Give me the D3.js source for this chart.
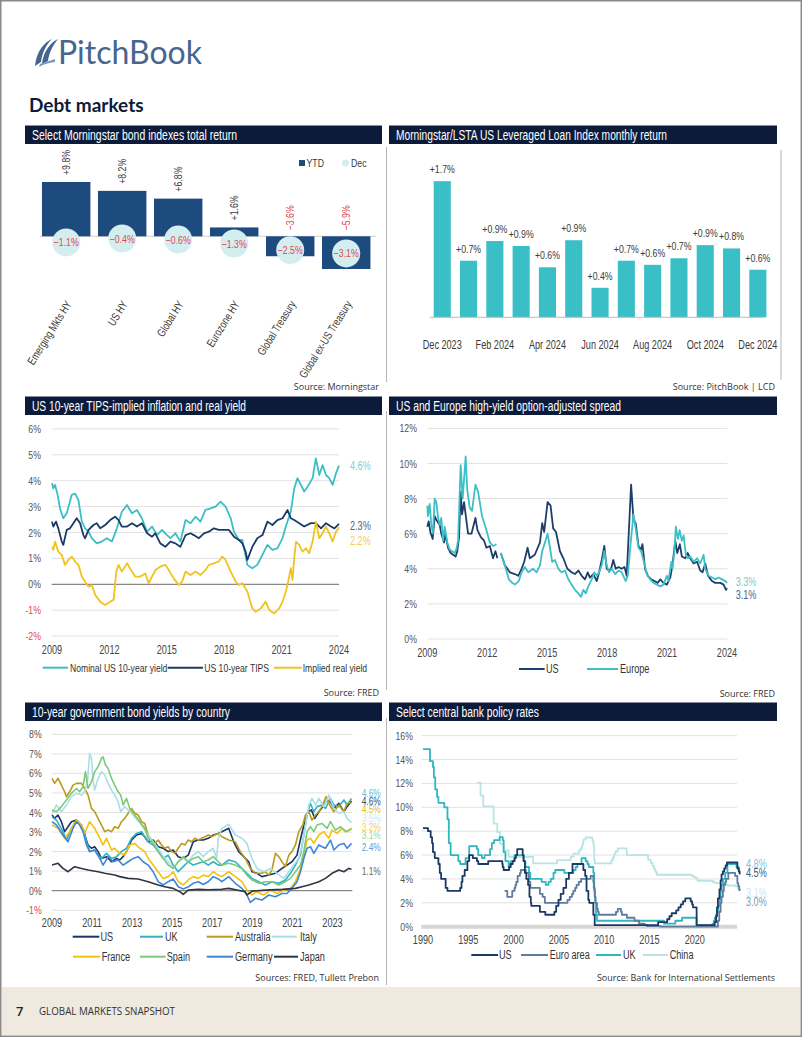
<!DOCTYPE html>
<html><head><meta charset="utf-8">
<script src="https://cdn.jsdelivr.net/npm/d3@7"></script>
<style>body{margin:0;background:#fff}svg{display:block}</style>
</head><body>
<svg id="c" width="802" height="1037"></svg>
<script>
// ---------------- DATA ----------------
const bondCategories = ["Emerging Mkts HY","US HY","Global HY","Eurozone HY","Global Treasury","Global ex-US Treasury"];
const bondYTD = [9.8, 8.2, 6.8, 1.6, -3.6, -5.9];
const bondDec = [-1.1, -0.4, -0.6, -1.3, -2.5, -3.1];

const loanMonths = ["Dec 2023","Jan 2024","Feb 2024","Mar 2024","Apr 2024","May 2024","Jun 2024","Jul 2024","Aug 2024","Sep 2024","Oct 2024","Nov 2024","Dec 2024"];
const loanReturns = [1.66, 0.69, 0.93, 0.87, 0.61, 0.94, 0.36, 0.69, 0.64, 0.72, 0.88, 0.84, 0.58];
const loanTickLabels = ["Dec 2023","Feb 2024","Apr 2024","Jun 2024","Aug 2024","Oct 2024","Dec 2024"];

const tipsYTicks = [-2,-1,0,1,2,3,4,5,6];
const tipsXTicks = [2009,2012,2015,2018,2021,2024];
const tipsNominal = [[2009.0,3.9],[2009.07,3.7],[2009.16,3.84],[2009.28,3.5],[2009.42,2.93],[2009.59,2.55],[2009.77,2.74],[2010.03,3.45],[2010.21,3.5],[2010.38,3.25],[2010.56,2.42],[2010.73,2.16],[2010.91,2.03],[2011.08,1.78],[2011.34,1.58],[2011.6,1.65],[2011.87,1.78],[2012.13,1.65],[2012.39,2.16],[2012.65,2.8],[2012.92,3.06],[2013.18,2.74],[2013.44,2.87],[2013.7,2.55],[2013.97,2.03],[2014.23,2.23],[2014.49,1.9],[2014.75,2.1],[2015.01,1.9],[2015.19,1.78],[2015.45,1.97],[2015.71,1.65],[2015.98,2.48],[2016.24,2.36],[2016.5,2.61],[2016.76,2.42],[2017.02,2.87],[2017.29,2.93],[2017.55,3.0],[2017.81,3.19],[2018.07,3.0],[2018.34,2.55],[2018.51,2.03],[2018.77,1.71],[2018.95,1.71],[2019.21,0.75],[2019.47,0.62],[2019.73,0.75],[2019.99,1.13],[2020.26,1.52],[2020.52,1.33],[2020.78,1.39],[2021.05,1.78],[2021.22,2.23],[2021.48,2.8],[2021.66,3.7],[2021.83,4.1],[2022.01,3.84],[2022.18,3.58],[2022.36,3.77],[2022.62,4.1],[2022.79,4.86],[2022.97,4.22],[2023.14,4.6],[2023.32,4.22],[2023.49,4.1],[2023.67,3.84],[2023.84,4.28],[2024.0,4.58]];
const tipsBreakeven = [[2009.0,2.42],[2009.07,2.23],[2009.21,2.42],[2009.33,2.16],[2009.51,1.65],[2009.59,1.52],[2009.77,2.1],[2009.94,2.16],[2010.12,2.36],[2010.29,2.55],[2010.47,2.36],[2010.64,1.9],[2010.73,1.78],[2010.91,2.1],[2011.17,2.29],[2011.34,2.36],[2011.52,2.16],[2011.78,2.29],[2012.04,2.48],[2012.3,2.61],[2012.48,2.48],[2012.65,2.23],[2012.92,2.23],[2013.18,2.36],[2013.44,2.23],[2013.7,2.36],[2013.97,1.97],[2014.23,1.84],[2014.4,1.97],[2014.66,1.58],[2014.93,1.45],[2015.19,1.65],[2015.45,1.58],[2015.71,1.45],[2015.98,1.9],[2016.24,1.97],[2016.41,1.9],[2016.68,1.78],[2016.94,1.97],[2017.2,2.03],[2017.46,2.16],[2017.72,2.1],[2017.99,2.1],[2018.25,2.1],[2018.51,1.84],[2018.77,1.71],[2018.95,1.58],[2019.12,1.26],[2019.21,0.94],[2019.47,1.45],[2019.73,1.78],[2020.0,1.9],[2020.26,2.42],[2020.52,2.29],[2020.78,2.48],[2021.05,2.55],[2021.31,2.87],[2021.48,2.55],[2021.66,2.48],[2021.92,2.36],[2022.18,2.23],[2022.53,2.36],[2022.79,2.36],[2023.06,2.16],[2023.32,2.36],[2023.58,2.23],[2023.76,2.16],[2024.0,2.33]];
const tipsReal = [[2009.0,1.45],[2009.07,1.33],[2009.16,1.65],[2009.33,1.26],[2009.51,1.13],[2009.68,0.75],[2009.86,0.94],[2010.03,1.07],[2010.21,0.88],[2010.38,0.75],[2010.56,0.3],[2010.73,0.1],[2010.91,-0.09],[2011.08,-0.03],[2011.26,-0.41],[2011.52,-0.67],[2011.78,-0.8],[2012.04,-0.67],[2012.22,-0.6],[2012.36,0.49],[2012.48,0.75],[2012.65,0.49],[2012.92,0.81],[2013.18,0.49],[2013.35,0.3],[2013.62,0.3],[2013.88,0.42],[2014.05,0.04],[2014.23,0.3],[2014.4,0.55],[2014.66,0.68],[2014.93,0.75],[2015.1,0.55],[2015.36,0.23],[2015.63,-0.03],[2015.8,0.1],[2015.98,0.49],[2016.24,0.36],[2016.5,0.49],[2016.76,0.36],[2017.02,0.55],[2017.2,0.75],[2017.46,0.81],[2017.72,0.88],[2017.9,1.07],[2018.07,0.94],[2018.34,0.49],[2018.6,0.1],[2018.77,-0.03],[2018.95,0.04],[2019.21,-0.28],[2019.47,-0.93],[2019.65,-1.06],[2019.91,-0.93],[2020.17,-0.67],[2020.35,-0.99],[2020.61,-1.12],[2020.87,-0.93],[2021.05,-0.67],[2021.22,-0.28],[2021.34,0.1],[2021.48,0.62],[2021.57,0.17],[2021.66,1.0],[2021.75,1.65],[2021.92,1.52],[2022.09,1.26],[2022.27,1.39],[2022.44,1.2],[2022.62,1.65],[2022.79,2.42],[2022.97,1.78],[2023.14,1.97],[2023.32,2.23],[2023.49,1.97],[2023.67,1.65],[2023.84,2.03],[2024.0,2.2]];
const tipsEndLabels = ["4.6%","2.3%","2.2%"];

const hyYTicks = [0,2,4,6,8,10,12];
const hyXTicks = [2009,2012,2015,2018,2021,2024];
const hyUS = [[2009.0,6.4],[2009.07,6.7],[2009.15,6.1],[2009.27,5.7],[2009.37,7.0],[2009.45,6.8],[2009.62,6.5],[2009.7,6.0],[2009.84,5.5],[2009.9,6.0],[2010.04,5.2],[2010.17,4.9],[2010.29,4.8],[2010.42,4.7],[2010.5,5.0],[2010.59,5.8],[2010.67,8.4],[2010.74,7.1],[2010.84,7.8],[2011.04,6.0],[2011.21,6.0],[2011.41,6.9],[2011.51,6.2],[2011.68,5.8],[2011.84,5.6],[2011.96,5.2],[2012.13,5.3],[2012.29,4.6],[2012.41,5.0],[2012.51,4.6],[2012.6,null],[2012.68,4.9],[2012.88,4.2],[2013.01,4.0],[2013.13,3.8],[2013.38,3.7],[2013.55,3.6],[2013.72,4.0],[2013.85,4.4],[2014.02,5.2],[2014.13,4.6],[2014.38,4.8],[2014.64,5.5],[2014.75,6.6],[2014.85,6.1],[2015.02,7.8],[2015.17,7.6],[2015.3,6.3],[2015.44,6.1],[2015.64,5.0],[2015.81,4.6],[2016.01,4.0],[2016.22,3.8],[2016.39,3.7],[2016.56,3.9],[2016.73,3.6],[2016.89,3.4],[2017.03,3.8],[2017.14,3.5],[2017.31,3.7],[2017.48,3.3],[2017.6,3.8],[2017.73,4.5],[2017.86,5.3],[2017.98,4.0],[2018.1,3.9],[2018.2,4.0],[2018.31,4.5],[2018.43,4.0],[2018.57,4.1],[2018.73,4.0],[2018.87,4.1],[2018.98,3.6],[2019.2,8.8],[2019.32,6.8],[2019.43,6.6],[2019.57,5.3],[2019.7,5.1],[2019.77,5.4],[2019.9,4.0],[2020.04,3.6],[2020.2,3.4],[2020.37,3.3],[2020.54,3.2],[2020.66,3.4],[2020.82,3.2],[2020.99,3.1],[2021.16,3.5],[2021.27,4.2],[2021.41,5.6],[2021.51,4.9],[2021.64,5.4],[2021.74,4.7],[2021.91,4.6],[2022.03,4.9],[2022.16,4.6],[2022.33,4.3],[2022.5,4.4],[2022.66,3.9],[2022.78,3.8],[2022.91,4.3],[2023.05,3.6],[2023.25,3.3],[2023.41,3.2],[2023.67,3.2],[2023.83,3.1],[2023.95,2.8],[2024.0,2.9]];
const hyEurope = [[2009.0,7.6],[2009.03,7.0],[2009.12,7.7],[2009.2,6.5],[2009.28,6.0],[2009.37,8.0],[2009.45,7.8],[2009.54,6.9],[2009.62,6.5],[2009.7,6.9],[2009.79,5.6],[2009.87,6.4],[2010.0,5.5],[2010.12,5.1],[2010.24,5.0],[2010.37,4.9],[2010.45,5.1],[2010.54,5.6],[2010.67,9.9],[2010.77,8.0],[2010.92,10.4],[2011.0,8.5],[2011.12,7.5],[2011.24,7.3],[2011.41,8.8],[2011.54,8.4],[2011.74,7.0],[2011.96,6.2],[2012.13,5.5],[2012.29,5.3],[2012.46,5.4],[2012.6,null],[2012.68,4.9],[2012.88,4.2],[2013.08,3.4],[2013.25,3.2],[2013.38,3.1],[2013.58,3.3],[2013.72,3.8],[2013.88,4.1],[2014.05,3.8],[2014.3,4.0],[2014.47,3.8],[2014.64,4.2],[2014.75,5.0],[2014.89,5.5],[2015.02,6.0],[2015.14,5.2],[2015.25,4.4],[2015.39,4.5],[2015.56,4.0],[2015.72,3.8],[2015.89,3.9],[2016.06,3.4],[2016.22,3.1],[2016.39,2.8],[2016.56,2.6],[2016.69,2.4],[2016.81,2.8],[2016.93,2.6],[2017.06,3.0],[2017.23,3.4],[2017.36,3.8],[2017.48,3.6],[2017.6,3.8],[2017.73,4.2],[2017.86,5.0],[2017.98,4.2],[2018.1,3.8],[2018.23,4.0],[2018.4,3.7],[2018.57,3.9],[2018.73,3.8],[2018.93,3.3],[2019.03,3.6],[2019.18,5.5],[2019.32,7.1],[2019.43,6.3],[2019.57,5.2],[2019.7,5.0],[2019.82,4.5],[2019.99,3.7],[2020.15,3.4],[2020.32,3.2],[2020.49,3.1],[2020.66,3.0],[2020.82,3.1],[2020.99,3.6],[2021.07,3.3],[2021.21,4.4],[2021.27,4.0],[2021.37,5.0],[2021.44,6.4],[2021.54,5.7],[2021.63,6.2],[2021.74,5.6],[2021.83,5.9],[2021.94,4.8],[2022.04,4.6],[2022.16,4.7],[2022.33,4.4],[2022.5,4.6],[2022.66,4.3],[2022.83,4.8],[2022.91,4.0],[2023.08,3.6],[2023.25,3.5],[2023.41,3.4],[2023.58,3.5],[2023.75,3.4],[2023.92,3.3],[2024.0,3.2]];
const hyEndLabels = ["3.3%","3.1%"];

const govYTicks = [-1,0,1,2,3,4,5,6,7,8];
const govXTicks = [2009,2011,2013,2015,2017,2019,2021,2023];
const govUS = [[2009.0,3.87],[2009.13,3.7],[2009.3,3.87],[2009.47,3.53],[2009.63,3.02],[2009.8,3.27],[2009.97,3.53],[2010.22,3.61],[2010.47,3.36],[2010.63,2.85],[2010.8,2.34],[2010.97,2.17],[2011.13,2.25],[2011.3,2.0],[2011.47,1.65],[2011.72,1.74],[2011.97,1.48],[2012.22,1.65],[2012.38,1.57],[2012.55,1.74],[2012.72,2.0],[2012.97,2.59],[2013.22,2.85],[2013.47,2.93],[2013.63,2.76],[2013.8,2.5],[2014.05,2.59],[2014.3,2.25],[2014.55,2.17],[2014.8,2.0],[2015.05,2.08],[2015.3,1.74],[2015.55,1.65],[2015.8,1.82],[2016.05,2.5],[2016.3,2.59],[2016.55,2.59],[2016.8,2.68],[2017.05,2.85],[2017.3,2.93],[2017.48,3.02],[2017.82,3.19],[2018.07,2.5],[2018.32,2.0],[2018.57,1.74],[2018.82,1.48],[2018.98,0.97],[2019.23,0.89],[2019.48,0.72],[2019.82,0.8],[2020.15,0.89],[2020.48,1.14],[2020.73,1.31],[2020.98,1.48],[2021.23,1.82],[2021.45,2.85],[2021.62,3.53],[2021.78,4.04],[2021.95,4.13],[2022.12,3.7],[2022.32,4.04],[2022.52,4.3],[2022.73,4.64],[2022.9,4.55],[2023.07,4.21],[2023.32,4.47],[2023.57,4.04],[2023.73,4.3],[2023.95,4.59]];
const govUK = [[2009.0,3.78],[2009.22,3.61],[2009.55,3.02],[2009.72,2.59],[2009.97,3.19],[2010.22,3.61],[2010.38,3.44],[2010.63,3.02],[2010.72,2.5],[2010.88,2.0],[2011.13,2.08],[2011.3,1.82],[2011.47,1.65],[2011.72,1.91],[2011.97,1.65],[2012.22,1.74],[2012.47,2.0],[2012.72,2.17],[2012.97,2.68],[2013.22,2.93],[2013.47,3.02],[2013.63,2.76],[2013.8,2.5],[2014.05,2.34],[2014.3,2.0],[2014.55,1.65],[2014.8,1.82],[2015.05,1.31],[2015.3,0.97],[2015.55,1.23],[2015.8,1.48],[2016.05,1.31],[2016.3,1.4],[2016.55,1.48],[2016.8,1.31],[2017.05,1.48],[2017.3,1.31],[2017.48,1.31],[2017.82,1.57],[2018.15,1.48],[2018.48,1.14],[2018.73,0.89],[2018.98,0.63],[2019.32,0.46],[2019.65,0.29],[2019.98,0.46],[2020.32,0.38],[2020.65,0.55],[2020.9,0.89],[2021.15,1.31],[2021.4,1.82],[2021.57,2.85],[2021.73,3.87],[2021.9,4.47],[2022.07,4.04],[2022.23,4.3],[2022.48,4.38],[2022.65,4.21],[2022.9,4.72],[2023.07,4.38],[2023.32,4.3],[2023.57,4.64],[2023.73,4.38],[2023.95,4.72]];
const govAustralia = [[2009.0,5.75],[2009.13,5.49],[2009.3,5.75],[2009.47,5.4],[2009.63,5.06],[2009.72,4.81],[2009.88,5.06],[2010.05,5.4],[2010.22,5.49],[2010.47,5.49],[2010.63,5.23],[2010.8,4.89],[2010.97,4.21],[2011.13,4.04],[2011.3,3.7],[2011.47,3.36],[2011.63,3.02],[2011.8,3.1],[2011.97,3.02],[2012.13,3.27],[2012.3,3.19],[2012.47,3.53],[2012.63,3.7],[2012.8,3.96],[2012.97,4.21],[2013.13,3.96],[2013.3,3.87],[2013.47,3.53],[2013.63,3.44],[2013.8,2.85],[2013.97,2.59],[2014.13,2.42],[2014.3,2.59],[2014.47,2.34],[2014.63,2.17],[2014.8,2.25],[2014.97,2.0],[2015.13,1.91],[2015.3,2.17],[2015.47,2.42],[2015.63,2.34],[2015.8,2.59],[2015.97,2.5],[2016.13,2.68],[2016.3,2.59],[2016.47,2.68],[2016.63,2.76],[2016.8,2.85],[2016.97,2.76],[2017.13,2.85],[2017.3,2.93],[2017.48,2.76],[2017.82,2.59],[2018.15,2.5],[2018.4,2.0],[2018.65,1.65],[2018.9,1.14],[2019.15,0.89],[2019.48,0.89],[2019.65,0.97],[2019.82,0.8],[2019.98,1.06],[2020.15,1.91],[2020.32,1.74],[2020.48,1.48],[2020.65,1.23],[2020.82,1.82],[2020.98,2.0],[2021.15,2.34],[2021.32,3.02],[2021.52,3.36],[2021.65,3.87],[2021.82,4.04],[2021.98,3.61],[2022.15,3.87],[2022.32,4.04],[2022.48,4.3],[2022.68,4.81],[2022.9,4.3],[2023.07,4.04],[2023.32,4.38],[2023.57,4.04],[2023.73,4.47],[2023.95,4.5]];
const govItaly = [[2009.0,3.96],[2009.22,4.38],[2009.47,4.04],[2009.72,4.38],[2009.97,4.81],[2010.22,4.98],[2010.47,4.89],[2010.63,5.06],[2010.77,5.58],[2010.88,7.02],[2010.97,6.77],[2011.05,5.66],[2011.13,5.15],[2011.3,5.75],[2011.47,6.09],[2011.63,5.92],[2011.8,5.49],[2011.97,5.15],[2012.13,4.89],[2012.3,4.55],[2012.43,4.04],[2012.63,4.3],[2012.97,3.96],[2013.47,3.36],[2013.8,2.85],[2014.05,2.5],[2014.3,2.17],[2014.55,1.74],[2014.8,1.48],[2015.05,1.14],[2015.3,1.48],[2015.55,1.65],[2015.8,1.48],[2016.05,1.82],[2016.3,2.0],[2016.55,1.74],[2016.8,2.0],[2017.05,2.17],[2017.22,1.65],[2017.3,2.68],[2017.48,3.19],[2017.82,3.4],[2018.15,2.85],[2018.48,2.68],[2018.73,2.42],[2018.98,1.65],[2019.23,1.14],[2019.57,0.97],[2019.9,1.14],[2020.23,0.89],[2020.57,0.63],[2020.82,0.97],[2021.07,1.31],[2021.32,1.65],[2021.52,2.5],[2021.68,3.53],[2021.82,4.38],[2021.98,4.72],[2022.15,4.38],[2022.32,4.72],[2022.57,4.3],[2022.82,4.89],[2023.07,4.21],[2023.32,3.96],[2023.57,4.04],[2023.73,3.7],[2023.95,3.48]];
const govFrance = [[2009.0,3.36],[2009.3,3.19],[2009.63,2.68],[2009.88,3.02],[2010.22,3.61],[2010.47,3.36],[2010.63,2.93],[2010.88,3.53],[2011.13,3.19],[2011.3,2.85],[2011.55,2.34],[2011.72,2.68],[2011.97,2.08],[2012.13,2.17],[2012.38,1.91],[2012.63,1.82],[2012.88,2.34],[2013.13,2.42],[2013.38,2.17],[2013.63,2.0],[2013.8,1.65],[2014.05,1.31],[2014.3,0.97],[2014.55,0.63],[2014.8,0.72],[2015.05,0.97],[2015.3,0.46],[2015.55,0.29],[2015.8,0.55],[2016.05,0.72],[2016.3,0.63],[2016.55,0.8],[2016.8,0.72],[2017.05,0.97],[2017.3,0.8],[2017.48,0.72],[2017.82,0.97],[2018.15,0.72],[2018.48,0.46],[2018.73,0.03],[2018.98,-0.22],[2019.23,-0.05],[2019.57,-0.22],[2019.9,0.03],[2020.23,-0.14],[2020.57,0.03],[2020.9,0.12],[2021.15,0.46],[2021.4,1.14],[2021.57,1.82],[2021.73,2.59],[2021.9,2.68],[2022.07,2.42],[2022.32,2.85],[2022.57,3.02],[2022.82,2.68],[2022.98,3.1],[2023.23,2.93],[2023.48,3.19],[2023.73,3.02],[2023.95,3.22]];
const govSpain = [[2009.0,4.13],[2009.22,4.04],[2009.47,4.3],[2009.72,4.64],[2009.97,4.98],[2010.22,5.23],[2010.38,5.06],[2010.55,5.32],[2010.67,6.09],[2010.8,5.23],[2010.97,5.58],[2011.13,6.09],[2011.3,6.34],[2011.47,6.77],[2011.55,6.85],[2011.67,6.43],[2011.8,6.26],[2011.97,5.75],[2012.13,5.4],[2012.3,5.06],[2012.43,4.89],[2012.55,4.38],[2012.72,4.72],[2012.88,4.21],[2013.13,3.87],[2013.38,3.53],[2013.63,3.19],[2013.8,2.68],[2014.05,2.42],[2014.3,2.0],[2014.55,1.65],[2014.8,1.31],[2015.05,1.14],[2015.3,1.48],[2015.55,1.74],[2015.8,1.48],[2016.05,1.65],[2016.3,1.74],[2016.55,1.48],[2016.8,1.57],[2017.05,1.74],[2017.3,1.48],[2017.48,1.31],[2017.82,1.4],[2018.15,1.31],[2018.48,1.14],[2018.73,0.8],[2018.98,0.55],[2019.32,0.38],[2019.65,0.46],[2019.98,0.46],[2020.32,0.29],[2020.65,0.46],[2020.9,0.63],[2021.15,0.97],[2021.4,1.31],[2021.57,2.0],[2021.73,3.02],[2021.9,3.27],[2022.07,3.02],[2022.23,3.36],[2022.48,3.44],[2022.73,3.19],[2022.9,3.53],[2023.15,3.1],[2023.4,3.27],[2023.65,3.02],[2023.95,3.14]];
const govGermany = [[2009.0,3.53],[2009.22,3.36],[2009.55,2.85],[2009.8,2.5],[2010.05,3.19],[2010.22,3.53],[2010.38,3.36],[2010.55,3.02],[2010.72,2.34],[2010.88,2.0],[2011.13,2.08],[2011.38,1.65],[2011.55,1.31],[2011.8,1.74],[2012.05,1.48],[2012.3,1.57],[2012.55,1.31],[2012.8,1.48],[2013.05,1.65],[2013.3,1.74],[2013.55,1.48],[2013.8,1.31],[2014.05,0.97],[2014.3,0.46],[2014.55,0.29],[2014.8,0.46],[2015.05,0.6],[2015.3,0.2],[2015.55,0.09],[2015.8,0.2],[2016.05,0.38],[2016.3,0.46],[2016.55,0.32],[2016.8,0.46],[2017.05,0.72],[2017.3,0.6],[2017.48,0.46],[2017.82,0.72],[2018.15,0.38],[2018.48,0.12],[2018.73,-0.22],[2018.9,-0.6],[2019.15,-0.39],[2019.48,-0.48],[2019.82,-0.22],[2020.15,-0.31],[2020.48,-0.14],[2020.73,-0.14],[2020.98,0.12],[2021.23,0.46],[2021.4,0.97],[2021.57,1.65],[2021.73,2.17],[2021.9,2.25],[2022.07,1.91],[2022.32,2.34],[2022.48,2.25],[2022.65,2.17],[2022.9,2.59],[2023.07,2.08],[2023.32,2.34],[2023.57,2.42],[2023.73,2.17],[2023.95,2.42]];
const govJapan = [[2009.0,1.31],[2009.3,1.4],[2009.55,1.14],[2009.8,0.97],[2010.13,1.23],[2010.47,1.14],[2010.8,1.06],[2011.3,0.97],[2011.63,0.89],[2012.13,0.8],[2012.38,0.72],[2012.8,0.63],[2013.3,0.6],[2013.8,0.46],[2014.3,0.29],[2014.63,0.2],[2015.05,0.12],[2015.38,-0.05],[2015.55,-0.19],[2015.8,0.03],[2016.3,0.07],[2016.8,0.05],[2017.47,0.07],[2017.82,0.12],[2018.65,-0.05],[2018.73,-0.22],[2019.0,-0.02],[2019.65,0.03],[2020.5,0.07],[2021.15,0.12],[2021.48,0.2],[2021.82,0.29],[2022.32,0.46],[2022.65,0.63],[2022.98,0.89],[2023.32,1.06],[2023.57,0.97],[2023.82,1.14],[2023.95,1.1]];
const govEndLabels = ["4.6%","4.6%","4.5%","3.5%","3.2%","3.1%","2.4%","1.1%"];

const rateYTicks = [0,2,4,6,8,10,12,14,16];
const rateXTicks = [1990,1995,2000,2005,2010,2015,2020];
const rateUS = [[1990.0,8.25],[1990.55,8.0],[1990.85,7.5],[1991.0,7.0],[1991.1,6.25],[1991.3,5.75],[1991.7,5.25],[1991.85,4.5],[1992.0,4.0],[1992.5,3.25],[1992.7,3.0],[1994.1,3.25],[1994.25,3.75],[1994.35,4.25],[1994.6,4.75],[1994.9,5.5],[1995.1,6.0],[1995.5,5.75],[1995.95,5.5],[1996.1,5.25],[1997.2,5.5],[1998.75,5.25],[1998.8,5.0],[1998.9,4.75],[1999.5,5.0],[1999.65,5.25],[1999.9,5.5],[2000.1,5.75],[2000.25,6.0],[2000.4,6.5],[2001.0,6.0],[2001.1,5.5],[2001.25,4.5],[2001.4,4.0],[2001.6,3.5],[2001.75,2.5],[2001.9,2.0],[2001.95,1.75],[2002.9,1.25],[2003.5,1.0],[2004.5,1.25],[2004.7,1.75],[2004.95,2.25],[2005.2,2.75],[2005.5,3.25],[2005.8,4.0],[2006.1,4.5],[2006.5,5.25],[2007.7,4.75],[2007.9,4.25],[2008.05,3.0],[2008.25,2.25],[2008.35,2.0],[2008.8,1.0],[2008.95,0.125],[2015.95,0.375],[2016.95,0.625],[2017.2,0.875],[2017.45,1.125],[2017.95,1.375],[2018.2,1.625],[2018.45,1.875],[2018.7,2.125],[2018.95,2.375],[2019.55,2.125],[2019.7,1.875],[2019.8,1.625],[2020.2,0.125],[2022.2,0.375],[2022.35,0.875],[2022.45,1.625],[2022.55,2.375],[2022.72,3.125],[2022.85,3.875],[2022.95,4.375],[2023.1,4.625],[2023.25,4.875],[2023.4,5.125],[2023.55,5.375],[2024.7,4.875],[2024.85,4.625],[2024.95,4.375]];
const rateEuro = [[1999.0,3.0],[1999.3,2.5],[1999.85,3.0],[2000.1,3.25],[2000.2,3.5],[2000.3,3.75],[2000.45,4.25],[2000.7,4.5],[2000.8,4.75],[2001.35,4.5],[2001.65,4.25],[2001.7,3.75],[2001.85,3.25],[2002.9,2.75],[2003.2,2.5],[2003.45,2.0],[2005.95,2.25],[2006.2,2.5],[2006.45,2.75],[2006.6,3.0],[2006.8,3.25],[2006.95,3.5],[2007.2,3.75],[2007.45,4.0],[2008.5,4.25],[2008.8,3.75],[2008.85,3.25],[2008.95,2.5],[2009.05,2.0],[2009.2,1.5],[2009.3,1.25],[2009.4,1.0],[2011.3,1.25],[2011.5,1.5],[2011.85,1.25],[2011.95,1.0],[2012.5,0.75],[2013.35,0.5],[2013.85,0.25],[2014.45,0.15],[2014.7,0.05],[2016.2,0.0],[2022.55,0.5],[2022.7,1.25],[2022.85,2.0],[2022.95,2.5],[2023.1,3.0],[2023.2,3.5],[2023.35,3.75],[2023.45,4.0],[2023.7,4.5],[2024.45,4.25],[2024.7,3.65],[2024.8,3.4],[2024.9,3.15],[2024.95,3.0]];
const rateUK = [[1990.0,14.875],[1990.77,13.875],[1991.1,13.375],[1991.2,12.5],[1991.35,11.5],[1991.55,10.875],[1991.7,10.375],[1992.35,10.0],[1992.7,9.0],[1992.85,7.0],[1993.05,6.0],[1993.9,5.5],[1994.1,5.25],[1994.7,5.75],[1995.1,6.75],[1995.95,6.5],[1996.1,6.0],[1996.5,5.75],[1996.8,6.0],[1997.4,6.5],[1997.6,7.0],[1997.85,7.25],[1998.45,7.5],[1998.8,7.25],[1998.9,6.25],[1999.1,5.5],[1999.45,5.0],[1999.7,5.5],[2000.1,6.0],[2001.1,5.5],[2001.3,5.0],[2001.7,4.5],[2001.85,4.0],[2003.1,3.75],[2003.55,3.5],[2003.85,3.75],[2004.1,4.0],[2004.4,4.5],[2004.6,4.75],[2005.6,4.5],[2006.6,4.75],[2006.85,5.0],[2007.05,5.25],[2007.5,5.75],[2007.95,5.5],[2008.15,5.25],[2008.3,5.0],[2008.8,4.5],[2008.9,3.0],[2009.0,2.0],[2009.1,1.0],[2009.2,0.5],[2016.6,0.25],[2017.85,0.5],[2018.6,0.75],[2020.2,0.1],[2021.95,0.25],[2022.1,0.5],[2022.2,0.75],[2022.35,1.0],[2022.45,1.25],[2022.6,1.75],[2022.75,2.25],[2022.85,3.0],[2022.95,3.5],[2023.1,4.0],[2023.35,4.5],[2023.6,5.25],[2024.6,5.0],[2024.85,4.75],[2024.95,4.75]];
const rateChina = [[1996.0,12.06],[1996.35,10.98],[1996.65,10.08],[1997.8,8.64],[1998.2,7.92],[1998.5,6.93],[1998.9,6.39],[1999.45,5.85],[2002.15,5.31],[2004.8,5.58],[2006.3,5.85],[2006.6,6.12],[2007.2,6.39],[2007.4,6.57],[2007.55,6.84],[2007.65,7.02],[2007.7,7.29],[2007.95,7.47],[2008.7,7.2],[2008.8,6.93],[2008.85,6.66],[2008.9,5.58],[2008.97,5.31],[2010.8,5.56],[2010.95,5.81],[2011.1,6.06],[2011.25,6.31],[2011.5,6.56],[2012.45,6.31],[2012.5,6.0],[2014.85,5.6],[2015.15,5.35],[2015.35,5.1],[2015.5,4.85],[2015.65,4.6],[2015.8,4.35],[2019.65,4.25],[2019.9,4.15],[2020.15,4.05],[2020.3,3.85],[2021.95,3.8],[2022.05,3.7],[2022.35,3.65],[2023.45,3.55],[2023.6,3.45],[2024.55,3.35],[2024.8,3.1],[2024.95,3.1]];
const rateEndLabels = ["4.8%","4.5%","3.1%","3.0%"];

// ---------------- STYLE ----------------
function textW(f){const c=document.createElement('canvas').getContext('2d');c.font='40px '+f;return c.measureText('Dec 2023 Feb 2024 Global Treasury').width;}
const wReg = textW('"Liberation Sans"'), wNar = textW('"Liberation Sans Narrow"');
const HAS_NARROW = wNar < wReg*0.9;
const NF = HAS_NARROW ? '"Liberation Sans Narrow", sans-serif' : '"Liberation Sans", Arial, sans-serif';
const CONDENSE = HAS_NARROW ? 0.93 : 0.76;
const HEAD = '#0d1b3a', TXT = '#3a3a3a', RED = '#e2474f', GRID = '#e2e2e2';

const svg = d3.select('#c');
svg.append('rect').attr('x',0.75).attr('y',0.75).attr('width',800.5).attr('height',1035.5).attr('fill','#fff').attr('stroke','#8a8a8a').attr('stroke-width',1.5);

// logo
const logo = svg.append('g').attr('fill','#46668f');
logo.append('path').attr('d','M35,66 C36,55 41,45 50,40 L52,39 C46,45 42,53 41,62 Z');
logo.append('path').attr('d','M42,64 C43,54 48,45 56,40 L58,39 C52,46 49,54 48,61 Z');
logo.append('path').attr('d','M39,67 C44,64 49,63 55,62 L55,59 C50,61 45,62 40,64 Z').attr('fill','#7d97b9');
svg.append('text').attr('x',58).attr('y',64).text('PitchBook').attr('font-family','Lato, "Open Sans", sans-serif').attr('font-size',32).attr('fill','#46668f');
svg.append('text').attr('x',29).attr('y',112).text('Debt markets').attr('font-family','Lato, "Open Sans", sans-serif').attr('font-weight',700).attr('font-size',19).attr('fill',HEAD);

// thin panel edge lines (as in scan)
[[386.5,147,382],[386.5,411,690],[386.5,718,985],[781,150,380]].forEach(l=>svg.append('line').attr('x1',l[0]).attr('x2',l[0]).attr('y1',l[1]).attr('y2',l[2]).attr('stroke','#b5b5b5').attr('stroke-width',1));

// footer
svg.append('rect').attr('x',2).attr('y',987).attr('width',798).attr('height',48).attr('fill','#efe9df');
svg.append('text').attr('x',16).attr('y',1016).text('7').attr('font-family','"Open Sans", sans-serif').attr('font-weight',600).attr('font-size',13).attr('fill','#222');
svg.append('text').attr('x',39).attr('y',1015).text('GLOBAL MARKETS SNAPSHOT').attr('font-family','"Open Sans", sans-serif').attr('font-size',10).attr('fill','#333').attr('textLength',136).attr('lengthAdjust','spacingAndGlyphs');

function condense(t,f){if(f<1){const L=t.node().getComputedTextLength();if(L>0)t.attr('textLength',L*f).attr('lengthAdjust','spacingAndGlyphs');}return t;}
function header(x,y,w,title,tw){
  svg.append('rect').attr('x',x).attr('y',y).attr('width',w).attr('height',18.5).attr('fill',HEAD);
  svg.append('text').attr('x',x+7).attr('y',y+14).text(title).attr('font-family',NF).attr('font-size',14).attr('fill','#fff').attr('textLength',tw).attr('lengthAdjust','spacingAndGlyphs');
}
function source(x,y,t){svg.append('text').attr('x',x).attr('y',y).attr('text-anchor','end').text(t).attr('font-family','"Open Sans", sans-serif').attr('font-size',9).attr('fill','#333');}
function txt(g,x,y,t,o={}){const e=g.append('text').attr('x',x).attr('y',y).text(t).attr('font-family',NF).attr('font-size',o.size||11.5).attr('fill',o.fill||TXT).attr('text-anchor',o.anchor||'start');return condense(e,CONDENSE);}

header(25,125.5,357,'Select Morningstar bond indexes total return',205);
header(389,125.5,388,'Morningstar/LSTA US Leveraged Loan Index monthly return',271);
header(25,396.5,357,'US 10-year TIPS-implied inflation and real yield',214);
header(389,396.5,388,'US and Europe high-yield option-adjusted spread',225);
header(25,702.5,357,'10-year government bond yields by country',198);
header(389,702.5,388,'Select central bank policy rates',143);

// ---------------- PANEL 1 ----------------
{
  const g = svg.append('g');
  const x = d3.scaleBand().domain(bondCategories).range([34.4,378]).paddingInner(0.135).paddingOuter(0.135);
  const y = d3.scaleLinear().domain([-6,10]).range([236.3+6*5.54, 236.3-10*5.54]);
  g.append('line').attr('x1',40).attr('x2',376).attr('y1',y(0)).attr('y2',y(0)).attr('stroke','#cfcfcf');
  g.selectAll('rect.b').data(bondCategories).join('rect').attr('x',d=>x(d)).attr('width',x.bandwidth())
    .attr('y',(d,i)=>Math.min(y(bondYTD[i]),y(0))).attr('height',(d,i)=>Math.abs(y(bondYTD[i])-y(0))).attr('fill','#1e4b7e');
  g.selectAll('circle.d').data(bondCategories).join('circle').attr('cx',d=>x(d)+x.bandwidth()/2).attr('cy',(d,i)=>y(bondDec[i])).attr('r',14).attr('fill','#d4eef0');
  bondCategories.forEach((c,i)=>{
    const cx = x(c)+x.bandwidth()/2;
    txt(g,cx,y(bondDec[i])+4,d3.format('.1f')(bondDec[i])+'%',{anchor:'middle',fill:RED});
    const v = bondYTD[i];
    const ay = v>=0 ? y(v)-7 : y(0)-6;
    txt(g,0,0,(v>=0?'+':'')+d3.format('.1f')(v)+'%',{fill:v>=0?TXT:RED}).attr('transform',`translate(${cx+4},${ay}) rotate(-90)`);
    txt(g,0,0,c,{anchor:'end'}).attr('transform',`translate(${cx+6},${304}) rotate(-58)`);
  });
  g.append('rect').attr('x',299).attr('y',160).attr('width',6).attr('height',6).attr('fill','#1e4b7e');
  txt(g,306.5,167,'YTD');
  g.append('circle').attr('cx',345.5).attr('cy',163).attr('r',3.5).attr('fill','#d4eef0');
  txt(g,351,167,'Dec');
  source(379,390,'Source: Morningstar');
}

// ---------------- PANEL 2 ----------------
{
  const g = svg.append('g');
  const x = d3.scaleBand().domain(loanMonths).range([424.5,775.6]).paddingInner(0.35).paddingOuter(0.35);
  const y = d3.scaleLinear().domain([0,1.8]).range([317.3,317.3-1.8*82]);
  g.selectAll('rect').data(loanMonths).join('rect').attr('x',d=>x(d)).attr('width',x.bandwidth())
    .attr('y',(d,i)=>y(loanReturns[i])).attr('height',(d,i)=>y(0)-y(loanReturns[i])).attr('fill','#3bbfc6');
  g.append('line').attr('x1',429.7).attr('x2',763).attr('y1',y(0)).attr('y2',y(0)).attr('stroke','#bdbdbd');
  loanMonths.forEach((m,i)=>txt(g,x(m)+x.bandwidth()/2,y(loanReturns[i])-8,'+'+d3.format('.1f')(loanReturns[i])+'%',{anchor:'middle'}));
  loanTickLabels.forEach(m=>txt(g,x(m)+x.bandwidth()/2,349,m,{anchor:'middle',size:12}));
  source(775,390,'Source: PitchBook | LCD');
}

// ---------------- line chart helper ----------------
function lineChart(o){
  const g = svg.append('g');
  o.yTicks.forEach(t=>{
    const isZ = t===0;
    g.append('line').attr('x1',o.gx[0]).attr('x2',o.gx[1]).attr('y1',o.y(t)).attr('y2',o.y(t))
      .attr('stroke-width',(isZ&&o.zeroThick)?4:1)
      .attr('stroke', (isZ&&o.zeroThick)?'#d6d6d6':((isZ&&o.zeroDark)?'#6b6b6b':GRID));
    txt(g,o.ylabX,o.y(t)+4,t+'%',{anchor:'end',fill:t<0?RED:'#555'});
  });
  o.xTicks.forEach(t=>txt(g,o.x(t),o.xlabY,String(t),{anchor:'middle',fill:'#444',size:12}));
  const curve = o.step ? d3.curveStepAfter : d3.curveLinear;
  o.series.forEach(s=>{
    const line = d3.line().defined(d=>d[1]!=null).x(d=>o.x(d[0])).y(d=>o.y(d[1])).curve(curve);
    g.append('path').attr('d',line(s.data)).attr('fill','none').attr('stroke',s.color).attr('stroke-width',s.w||1.8).attr('stroke-linejoin','round');
  });
  (o.ends||[]).forEach(e=>txt(g,e.x,e.y+4,e.t,{fill:e.c,size:o.endSize||12}));
  (o.legend||[]).forEach(l=>{
    g.append('line').attr('x1',l.x1).attr('x2',l.x2).attr('y1',l.y).attr('y2',l.y).attr('stroke',l.c).attr('stroke-width',2);
    txt(g,l.tx,l.y+4,l.t,{size:o.legSize||12,fill:'#333'});
  });
  return g;
}

// ---------------- PANEL 3 ----------------
{
  const x = d3.scaleLinear().domain([2009,2024]).range([52,339]);
  const y = d3.scaleLinear().domain([-2,6]).range([584.3+2*25.9,584.3-6*25.9]);
  lineChart({x,y,gx:[51.7,339],yTicks:tipsYTicks,xTicks:tipsXTicks,ylabX:41,xlabY:654,zeroDark:true,legSize:11.3,
    series:[{data:tipsNominal,color:'#3bbfc5'},{data:tipsBreakeven,color:'#1c3a69'},{data:tipsReal,color:'#f2c31c'}],
    ends:[{x:350,y:465.7,t:tipsEndLabels[0],c:'#7fd0d6'},{x:350,y:526,t:tipsEndLabels[1],c:'#4d668e'},{x:350,y:541,t:tipsEndLabels[2],c:'#f3cd50'}],
    legend:[{x1:42.7,x2:68,tx:70,y:667.7,c:'#3bbfc5',t:'Nominal US 10-year yield'},{x1:167.7,x2:203,tx:204.3,y:667.7,c:'#1c3a69',t:'US 10-year TIPS'},{x1:274,x2:301.7,tx:302.7,y:667.7,c:'#f2c31c',t:'Implied real yield'}]});
  source(379,696,'Source: FRED');
}

// ---------------- PANEL 4 ----------------
{
  const x = d3.scaleLinear().domain([2009,2024]).range([427.3,727]);
  const y = d3.scaleLinear().domain([0,12]).range([639,639-12*17.55]);
  lineChart({x,y,gx:[427.3,727.3],yTicks:hyYTicks,xTicks:hyXTicks,ylabX:417,xlabY:656.5,
    series:[{data:hyUS,color:'#1e3d6c'},{data:hyEurope,color:'#3cc0c6'}],
    ends:[{x:735.7,y:581.7,t:hyEndLabels[0],c:'#6ecbd1'},{x:735.7,y:595,t:hyEndLabels[1],c:'#48638c'}],
    legend:[{x1:519,x2:544.7,tx:546,y:669,c:'#1e3d6c',t:'US'},{x1:587,x2:618,tx:620,y:669,c:'#3cc0c6',t:'Europe'}]});
  source(775,697,'Source: FRED');
}

// ---------------- PANEL 5 ----------------
{
  const x = d3.scaleLinear().domain([2009,2024]).range([52,352.5]);
  const y = d3.scaleLinear().domain([-1,8]).range([890.7+19.55,890.7-8*19.55]);
  const cols = {US:'#1a3564',UK:'#2fb3c2',Australia:'#b89b1c',Italy:'#a9dfe6',France:'#f4c20d',Spain:'#7dc97a',Germany:'#3f86d8',Japan:'#2f3542'};
  lineChart({x,y,gx:[51.7,352.3],yTicks:govYTicks,xTicks:govXTicks,ylabX:41.7,xlabY:927,zeroDark:true,endSize:11,
    series:[{data:govUS,color:cols.US,w:1.6},{data:govUK,color:cols.UK,w:1.6},{data:govAustralia,color:cols.Australia,w:1.6},{data:govItaly,color:cols.Italy,w:1.6},{data:govFrance,color:cols.France,w:1.6},{data:govSpain,color:cols.Spain,w:1.6},{data:govGermany,color:cols.Germany,w:1.6},{data:govJapan,color:cols.Japan,w:1.6}],
    ends:[{x:361.7,y:793.3,t:govEndLabels[0],c:'#6fb7d3'},{x:361.7,y:800.5,t:govEndLabels[1],c:'#2d4a76'},{x:361.7,y:809.3,t:govEndLabels[2],c:'#e0b92a'},{x:361.7,y:818.3,t:govEndLabels[3],c:'#c9e9ee'},{x:361.7,y:826.7,t:govEndLabels[4],c:'#f5cf4a'},{x:361.7,y:835,t:govEndLabels[5],c:'#a3d49a'},{x:361.7,y:846.7,t:govEndLabels[6],c:'#6a98d4'},{x:361.7,y:870.7,t:govEndLabels[7],c:'#666'}],
    legend:[
      {x1:72.7,x2:99.3,tx:100.5,y:936.7,c:cols.US,t:'US'},{x1:140,x2:163,tx:165,y:936.7,c:cols.UK,t:'UK'},{x1:206.7,x2:233,tx:235,y:936.7,c:cols.Australia,t:'Australia'},{x1:271.7,x2:296.7,tx:300,y:936.7,c:cols.Italy,t:'Italy'},
      {x1:73,x2:100,tx:101.7,y:956.7,c:cols.France,t:'France'},{x1:140,x2:165.7,tx:166.7,y:956.7,c:cols.Spain,t:'Spain'},{x1:206.7,x2:233,tx:235,y:956.7,c:cols.Germany,t:'Germany'},{x1:274,x2:298,tx:300,y:956.7,c:cols.Japan,t:'Japan'}]});
  source(379,981,'Sources: FRED, Tullett Prebon');
}

// ---------------- PANEL 6 ----------------
{
  const x = d3.scaleLinear().domain([1990,2025]).range([423,423+35*9.06]);
  const y = d3.scaleLinear().domain([0,16]).range([926.7,926.7-16*11.94]);
  lineChart({x,y,gx:[421.3,737],yTicks:rateYTicks,xTicks:rateXTicks,ylabX:413,xlabY:944,zeroThick:true,step:true,
    series:[{data:rateChina,color:'#b9e4e4'},{data:rateUK,color:'#30b6bf'},{data:rateEuro,color:'#5f7b9e'},{data:rateUS,color:'#1c3966'}],
    ends:[{x:746,y:864,t:rateEndLabels[0],c:'#7cc7d7'},{x:746,y:873.3,t:rateEndLabels[1],c:'#3d5a86'},{x:746,y:892.7,t:rateEndLabels[2],c:'#cde9ea'},{x:746,y:902.3,t:rateEndLabels[3],c:'#8098b5'}],
    legend:[{x1:471.3,x2:498,tx:499,y:955,c:'#1c3966',t:'US'},{x1:521,x2:548,tx:549.7,y:955,c:'#5f7b9e',t:'Euro area'},{x1:596,x2:621,tx:623,y:955,c:'#30b6bf',t:'UK'},{x1:643,x2:668,tx:669.7,y:955,c:'#b9e4e4',t:'China'}]});
  source(775,981,'Source: Bank for International Settlements');
}
</script>
</body></html>
